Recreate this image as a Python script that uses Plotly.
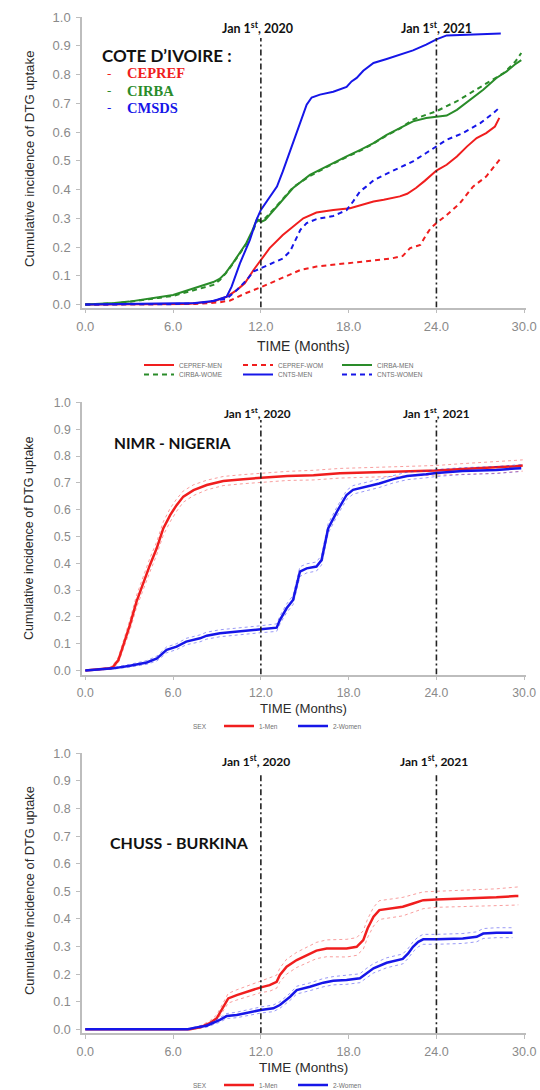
import plotly.graph_objects as go

W, H = 540, 1090

# ---------------- Côte d'Ivoire : three sites, men / women ----------------
cepref_men_t = [0, 7.0, 8.75, 9.66, 10.35, 10.9, 11.5, 12.0, 12.6, 13.5, 14.9, 15.8, 16.95, 18.1,
                19.7, 20.4, 21.5, 22.0, 22.6, 23.2, 23.8, 24.0, 24.7, 25.4, 26.1, 26.75, 27.4, 28.0, 28.3]
cepref_men_v = [0, 0.002, 0.01, 0.027, 0.05, 0.074, 0.12, 0.155, 0.196, 0.242, 0.30, 0.32, 0.329, 0.335,
                0.358, 0.364, 0.376, 0.385, 0.405, 0.43, 0.457, 0.466, 0.486, 0.515, 0.55, 0.579, 0.596, 0.619, 0.649]

cepref_wom_t = [0, 7.5, 8.5, 9.2, 9.9, 10.5, 11.0, 12.0, 12.85, 13.5, 14.7, 15.8, 16.95, 18.1, 19.7, 20.4,
                21.0, 21.7, 22.2, 22.9, 23.3, 23.6, 24.0, 24.7, 25.6, 26.5, 27.4, 28.4]
cepref_wom_v = [0, 0.002, 0.005, 0.008, 0.014, 0.028, 0.04, 0.06, 0.079, 0.092, 0.12, 0.132, 0.138, 0.143,
                0.153, 0.157, 0.161, 0.169, 0.196, 0.207, 0.242, 0.265, 0.283, 0.311, 0.352, 0.41, 0.445, 0.509]

cirba_men_t = [0, 1.0, 2.0, 3.0, 4.2, 5.0, 6.0, 6.7, 7.4, 8.0, 8.75, 9.2, 9.6, 10.1, 10.5, 11.0, 11.4, 11.75,
               12.0, 12.3, 13.08, 14.2, 15.35, 16.0, 16.95, 17.86, 18.8, 19.7, 20.6, 21.5, 22.4, 23.3, 24.0,
               24.7, 25.4, 26.3, 27.2, 28.1, 28.8, 29.36, 29.8]
cirba_men_v = [0, 0.002, 0.005, 0.01, 0.018, 0.025, 0.033, 0.045, 0.056, 0.065, 0.078, 0.09, 0.11, 0.145,
               0.175, 0.213, 0.255, 0.298, 0.287, 0.294, 0.34, 0.405, 0.451, 0.468, 0.492, 0.515, 0.538, 0.561,
               0.59, 0.614, 0.637, 0.649, 0.652, 0.657, 0.677, 0.712, 0.747, 0.788, 0.811, 0.835, 0.85]

cirba_wom_t = [0, 1.0, 2.0, 3.0, 4.2, 5.0, 6.0, 6.7, 7.4, 8.0, 8.75, 9.2, 9.6, 10.1, 10.5, 11.0, 11.4, 11.75,
               12.0, 12.3, 13.08, 14.2, 15.35, 16.0, 16.95, 17.86, 18.8, 19.7, 20.6, 21.5, 22.4, 23.3, 24.0,
               24.7, 25.4, 26.5, 27.7, 28.6, 29.4, 29.8]
cirba_wom_v = [0, 0.002, 0.004, 0.009, 0.016, 0.023, 0.03, 0.04, 0.05, 0.058, 0.068, 0.085, 0.108, 0.143,
               0.172, 0.21, 0.25, 0.29, 0.295, 0.3, 0.343, 0.408, 0.447, 0.465, 0.49, 0.513, 0.535, 0.56,
               0.588, 0.612, 0.643, 0.66, 0.672, 0.69, 0.707, 0.741, 0.776, 0.805, 0.845, 0.875]

cnts_men_t = [0, 3.0, 6.0, 7.5, 8.75, 9.66, 10.0, 10.57, 11.25, 11.7, 12.0, 12.4, 13.1, 13.5, 14.2, 14.67,
              15.13, 15.47, 16.04, 16.95, 17.86, 18.2, 18.55, 19.0, 19.7, 20.6, 21.5, 22.4, 23.3, 24.0,
              24.7, 25.8, 27.0, 28.4]
cnts_men_v = [0, 0.001, 0.002, 0.005, 0.012, 0.027, 0.062, 0.143, 0.225, 0.294, 0.329, 0.358, 0.41, 0.463,
              0.56, 0.63, 0.695, 0.72, 0.73, 0.74, 0.757, 0.776, 0.788, 0.813, 0.84, 0.854, 0.869, 0.884,
              0.904, 0.922, 0.936, 0.938, 0.94, 0.943]

cnts_wom_t = [0, 6.0, 8.0, 9.66, 10.35, 11.03, 11.5, 12.0, 12.85, 13.5, 14.0, 14.45, 14.7, 15.13, 15.8,
              16.3, 16.95, 17.4, 17.86, 18.3, 18.77, 19.2, 19.7, 20.4, 21.3, 22.4, 23.3, 24.0, 24.7, 25.8,
              27.0, 27.9, 28.4]
cnts_wom_v = [0, 0.001, 0.006, 0.02, 0.05, 0.085, 0.115, 0.126, 0.143, 0.16, 0.185, 0.236, 0.26, 0.283,
              0.297, 0.302, 0.308, 0.318, 0.328, 0.358, 0.393, 0.41, 0.432, 0.45, 0.472, 0.498, 0.527, 0.55,
              0.573, 0.596, 0.631, 0.666, 0.689]

# ---------------- NIMR - Nigeria : estimate with 95% band ----------------
ng_men_t = [0, 1.0, 1.69, 1.9, 2.26, 2.6, 3.05, 3.5, 3.97, 4.42, 4.88, 5.33, 5.8, 6.24, 6.7, 7.4, 8.3,
            9.43, 10.8, 12.0, 13.8, 15.6, 17.4, 19.2, 21.5, 24.0, 25.8, 28.1, 29.4, 29.9]
ng_men_v = [0, 0.004, 0.008, 0.014, 0.039, 0.095, 0.17, 0.257, 0.331, 0.394, 0.456, 0.53, 0.58, 0.617,
            0.649, 0.673, 0.692, 0.707, 0.714, 0.719, 0.726, 0.729, 0.736, 0.739, 0.742, 0.746, 0.752,
            0.757, 0.762, 0.765]
ng_men_hi = [0, 0.006, 0.012, 0.02, 0.05, 0.11, 0.19, 0.28, 0.355, 0.42, 0.48, 0.555, 0.605, 0.64, 0.67,
             0.693, 0.71, 0.724, 0.731, 0.736, 0.743, 0.747, 0.754, 0.757, 0.76, 0.765, 0.772, 0.778,
             0.784, 0.786]
ng_men_lo = [0, 0.002, 0.004, 0.008, 0.028, 0.08, 0.15, 0.235, 0.307, 0.368, 0.432, 0.505, 0.555, 0.594,
             0.628, 0.653, 0.674, 0.69, 0.697, 0.702, 0.709, 0.711, 0.718, 0.721, 0.724, 0.727, 0.732,
             0.736, 0.74, 0.744]

ng_wom_t = [0, 1.9, 3.05, 4.2, 4.9, 5.56, 6.24, 6.9, 7.84, 8.3, 9.2, 10.57, 12.0, 13.08, 13.3, 13.76,
            14.2, 14.5, 14.67, 15.13, 15.8, 16.15, 16.6, 17.2, 17.86, 18.3, 19.2, 20.1, 21.05, 22.0, 23.3,
            24.0, 25.8, 28.1, 29.4, 29.8]
ng_wom_v = [0, 0.008, 0.018, 0.03, 0.045, 0.077, 0.089, 0.108, 0.12, 0.13, 0.139, 0.145, 0.154, 0.16,
            0.188, 0.232, 0.263, 0.33, 0.369, 0.381, 0.388, 0.412, 0.53, 0.593, 0.655, 0.674, 0.686, 0.698,
            0.714, 0.726, 0.732, 0.737, 0.744, 0.748, 0.754, 0.755]
ng_wom_hi = [0, 0.011, 0.023, 0.037, 0.054, 0.088, 0.1, 0.12, 0.133, 0.143, 0.152, 0.158, 0.167, 0.174,
             0.203, 0.248, 0.28, 0.348, 0.387, 0.398, 0.405, 0.43, 0.548, 0.61, 0.672, 0.69, 0.702, 0.713,
             0.728, 0.74, 0.745, 0.75, 0.757, 0.761, 0.767, 0.768]
ng_wom_lo = [0, 0.005, 0.013, 0.023, 0.036, 0.066, 0.078, 0.096, 0.107, 0.117, 0.126, 0.132, 0.141, 0.146,
             0.173, 0.216, 0.246, 0.312, 0.351, 0.364, 0.371, 0.394, 0.512, 0.576, 0.638, 0.658, 0.67,
             0.683, 0.7, 0.712, 0.719, 0.724, 0.731, 0.735, 0.741, 0.742]

# ---------------- CHUSS - Burkina : estimate with 95% band ----------------
bf_men_t = [0, 7.16, 7.84, 8.5, 8.98, 9.43, 9.77, 10.35, 11.03, 12.0, 12.6, 13.08, 13.3, 13.76, 14.45,
            15.13, 15.8, 16.5, 17.86, 18.55, 19.0, 19.3, 19.7, 20.1, 21.05, 21.7, 22.4, 23.1, 24.0, 25.8,
            28.1, 29.4, 29.6]
bf_men_v = [0, 0, 0.007, 0.022, 0.04, 0.082, 0.112, 0.124, 0.136, 0.152, 0.16, 0.172, 0.197, 0.227, 0.251,
            0.269, 0.285, 0.293, 0.293, 0.299, 0.323, 0.366, 0.408, 0.432, 0.438, 0.444, 0.456, 0.468, 0.47,
            0.473, 0.478, 0.483, 0.483]
bf_men_hi = [0, 0, 0.012, 0.03, 0.052, 0.098, 0.13, 0.143, 0.156, 0.175, 0.184, 0.196, 0.222, 0.254, 0.279,
             0.298, 0.315, 0.324, 0.326, 0.332, 0.357, 0.4, 0.442, 0.466, 0.472, 0.478, 0.488, 0.498, 0.5,
             0.503, 0.509, 0.515, 0.516]
bf_men_lo = [0, 0, 0.003, 0.014, 0.03, 0.066, 0.095, 0.106, 0.117, 0.133, 0.138, 0.149, 0.172, 0.2, 0.224,
             0.241, 0.256, 0.263, 0.262, 0.268, 0.29, 0.333, 0.374, 0.398, 0.405, 0.411, 0.424, 0.437,
             0.442, 0.444, 0.447, 0.45, 0.451]

bf_wom_t = [0, 7.0, 7.6, 8.3, 9.2, 9.66, 10.35, 11.03, 12.0, 12.85, 13.3, 14.0, 14.45, 15.35, 16.27, 16.95,
            17.86, 18.77, 19.2, 19.7, 20.6, 21.5, 21.7, 22.07, 22.4, 22.76, 23.1, 24.0, 25.8, 26.75, 27.2,
            28.1, 29.2]
bf_wom_v = [0, 0, 0.007, 0.013, 0.034, 0.048, 0.052, 0.06, 0.07, 0.076, 0.088, 0.118, 0.142, 0.154, 0.169,
            0.176, 0.179, 0.185, 0.203, 0.221, 0.241, 0.251, 0.255, 0.275, 0.299, 0.317, 0.326, 0.326,
            0.329, 0.335, 0.347, 0.35, 0.35]
bf_wom_hi = [0, 0, 0.01, 0.018, 0.042, 0.057, 0.062, 0.07, 0.081, 0.088, 0.1, 0.131, 0.156, 0.168, 0.184,
             0.191, 0.195, 0.201, 0.22, 0.238, 0.259, 0.269, 0.273, 0.293, 0.317, 0.335, 0.344, 0.344,
             0.347, 0.353, 0.365, 0.368, 0.368]
bf_wom_lo = [0, 0, 0.004, 0.008, 0.026, 0.039, 0.042, 0.05, 0.059, 0.064, 0.076, 0.105, 0.128, 0.14, 0.154,
             0.161, 0.163, 0.169, 0.186, 0.204, 0.223, 0.233, 0.237, 0.257, 0.281, 0.299, 0.308, 0.308,
             0.311, 0.317, 0.329, 0.332, 0.332]

# axis ticks and milestones
x_ticks = [0, 6, 12, 18, 24, 30]
x_tick_labels = ["0.0", "6.0", "12.0", "18.0", "24.0", "30.0"]
y_ticks = [0.0, 0.1, 0.2, 0.3, 0.4, 0.5, 0.6, 0.7, 0.8, 0.9, 1.0]
y_tick_labels = ["0.0", "0.1", "0.2", "0.3", "0.4", "0.5", "0.6", "0.7", "0.8", "0.9", "1.0"]
milestones = [12, 24]
milestone_labels = ["Jan 1<sup>st</sup>, 2020", "Jan 1<sup>st</sup>, 2021"]

RED = "#f01e1e"
GREEN = "#2a8c2a"
BLUE = "#1616e8"
RED_CI = "rgba(240,40,40,0.45)"
BLUE_CI = "rgba(30,30,235,0.45)"
GREY_TXT = "#8a8a8a"
AXIS_GREY = "#bdbdbd"

# pixel geometry of the three panels
X_LEFT, X0, PX_PER_MONTH, X_RIGHT = 82.0, 85.3, 14.63, 526.0
panels = [
    dict(y1=17.0, y0=304.5, yaxis=307.5, s=1.0, lab_y=27.0, lab_dx=[-0.2, 0.0], line_top=38.0,
         ytitle=159.0, time_y=345.5, legend_y=[365.0, 374.5]),
    dict(y1=402.5, y0=670.5, yaxis=674.5, s=0.94, lab_y=412.5, lab_dx=[-0.2, 0.0], line_top=420.0,
         ytitle=538.0, time_y=708.0, legend_y=[726.0]),
    dict(y1=753.3, y0=1029.3, yaxis=1033.3, s=0.965, lab_y=760.5, lab_dx=[-0.33, -0.15], line_top=773.0,
         ytitle=891.0, time_y=1067.0, legend_y=[1085.0]),
]


def fx(px):
    return px / W


def fy(py):
    return 1 - py / H


fig = go.Figure()

x_range = [(X_LEFT - X0) / PX_PER_MONTH, 30 + (X_RIGHT - (X0 + 30 * PX_PER_MONTH)) / PX_PER_MONTH]

layout_axes = {}
for i, p in enumerate(panels, start=1):
    per_unit = p["y0"] - p["y1"]
    top_px = p["y1"] - 0.5
    lo_val = -(p["yaxis"] - p["y0"]) / per_unit
    hi_val = 1 + (p["y1"] - top_px) / per_unit
    s = p["s"]
    xa = "xaxis" if i == 1 else f"xaxis{i}"
    ya = "yaxis" if i == 1 else f"yaxis{i}"
    layout_axes[xa] = dict(
        domain=[fx(X_LEFT), fx(X_RIGHT)], range=x_range, anchor="y" if i == 1 else f"y{i}",
        tickvals=x_ticks, ticktext=x_tick_labels, showgrid=False, zeroline=False, automargin=False,
        showline=True, linecolor=AXIS_GREY, linewidth=1.5, ticks="outside", ticklen=4,
        tickcolor=AXIS_GREY, tickwidth=1, ticklabelstandoff=2,
        tickfont=dict(family="Liberation Sans", size=13 * s, color=GREY_TXT),
    )
    layout_axes[ya] = dict(
        domain=[fy(p["yaxis"]), fy(top_px)], range=[lo_val, hi_val], anchor="x" if i == 1 else f"x{i}",
        tickvals=y_ticks, ticktext=y_tick_labels, automargin=False,
        showgrid=False, zeroline=False, showline=True, linecolor=AXIS_GREY, linewidth=1.5,
        ticks="outside", ticklen=4, tickcolor=AXIS_GREY, tickwidth=1, ticklabelstandoff=3,
        tickfont=dict(family="Liberation Sans", size=13 * s, color=GREY_TXT),
    )

# --- panel 1 traces
p1 = [
    ("CEPREF-MEN", cepref_men_t, cepref_men_v, RED, "solid", "legend"),
    ("CEPREF-WOM", cepref_wom_t, cepref_wom_v, RED, "5px,4px", "legend"),
    ("CIRBA-MEN", cirba_men_t, cirba_men_v, GREEN, "solid", "legend"),
    ("CIRBA-WOME", cirba_wom_t, cirba_wom_v, GREEN, "5px,4px", "legend2"),
    ("CNTS-MEN", cnts_men_t, cnts_men_v, BLUE, "solid", "legend2"),
    ("CNTS-WOMEN", cnts_wom_t, cnts_wom_v, BLUE, "5px,4px", "legend2"),
]
for name, t, v, c, d, lg in p1:
    fig.add_trace(go.Scatter(x=t, y=v, mode="lines", name=name, legend=lg,
                             line=dict(color=c, width=2, dash=d), xaxis="x", yaxis="y"))

# --- panels 2 and 3: estimate + confidence limits
for (xa, ya, lg), series in [
    (("x2", "y2", "legend3"), [("1-Men", ng_men_t, ng_men_v, ng_men_lo, ng_men_hi, RED, RED_CI),
                               ("2-Women", ng_wom_t, ng_wom_v, ng_wom_lo, ng_wom_hi, BLUE, BLUE_CI)]),
    (("x3", "y3", "legend4"), [("1-Men", bf_men_t, bf_men_v, bf_men_lo, bf_men_hi, RED, RED_CI),
                               ("2-Women", bf_wom_t, bf_wom_v, bf_wom_lo, bf_wom_hi, BLUE, BLUE_CI)]),
]:
    for name, t, v, lo, hi, c, cci in series:
        for band in (lo, hi):
            fig.add_trace(go.Scatter(x=t, y=band, mode="lines", showlegend=False, hoverinfo="skip",
                                     line=dict(color=cci, width=1, dash="dot"), xaxis=xa, yaxis=ya))
        fig.add_trace(go.Scatter(x=t, y=v, mode="lines", name=name, legend=lg,
                                 line=dict(color=c, width=2.5), xaxis=xa, yaxis=ya))

shapes = []
annotations = []
label_font = "Lato"


def note(x, y, text, size, color, family="Liberation Sans", xanchor="center", **kw):
    annotations.append(dict(xref=kw.pop("xref", "paper"), yref="paper", x=x, y=y, text=text,
                            showarrow=False, xanchor=xanchor, yanchor="middle",
                            font=dict(family=family, size=size, color=color), **kw))


for i, p in enumerate(panels, start=1):
    s = p["s"]
    xr = "x" if i == 1 else f"x{i}"
    yr = "y" if i == 1 else f"y{i}"
    per_unit = p["y0"] - p["y1"]
    for m, lab, dx in zip(milestones, milestone_labels, p["lab_dx"]):
        shapes.append(dict(type="line", xref=xr, yref=yr, x0=m, x1=m,
                           y0=-(p["yaxis"] - p["y0"]) / per_unit,
                           y1=(p["y0"] - p["line_top"]) / per_unit,
                           line=dict(color="#222222", width=1.6, dash="6px,3px,2px,3px")))
        note(m + dx, fy(p["lab_y"]), f"<b>{lab}</b>", 12.5 * s, "#111111", family=label_font, xref=xr)
    note(fx(29), fy(p["ytitle"]), "Cumulative incidence of DTG uptake", 13.3 * s, "#2b2b2b", textangle=-90)
    note(fx(303), fy(p["time_y"]), "TIME (Months)", 14 * s, "#2b2b2b")

# site headings
note(fx(100), fy(55), "<b>COTE D’IVOIRE :</b>", 17, "#111111", family=label_font, xanchor="left")
for lab, c, ypx in [("CEPREF", RED, 73.5), ("CIRBA", GREEN, 90.5), ("CMSDS", BLUE, 107.5)]:
    note(fx(109), fy(ypx), "-", 13, c, family="Liberation Serif")
    note(fx(125), fy(ypx), f"<b>{lab}</b>", 14.5, c, family="Liberation Serif", xanchor="left")
note(fx(112), fy(443.5), "<b>NIMR - NIGERIA</b>", 15.5, "#111111", family=label_font, xanchor="left")
note(fx(108), fy(842), "<b>CHUSS - BURKINA</b>", 16, "#111111", family=label_font, xanchor="left")
# legend group caption for the sex-stratified panels
note(fx(200), fy(panels[1]["legend_y"][0]), "SEX", 6.5, "#707070")
note(fx(200), fy(panels[2]["legend_y"][0]), "SEX", 6.5, "#707070")

legend_common = dict(orientation="h", xanchor="left", yanchor="middle", bgcolor="rgba(0,0,0,0)",
                     font=dict(family="Liberation Sans", size=6.5, color="#707070"),
                     itemwidth=30, entrywidthmode="pixels", tracegroupgap=0)

fig.update_layout(
    width=W, height=H, autosize=False,
    margin=dict(l=0, r=0, t=0, b=0, autoexpand=False),
    paper_bgcolor="white", plot_bgcolor="white",
    shapes=shapes, annotations=annotations,
    legend=dict(x=fx(139), y=fy(panels[0]["legend_y"][0]), entrywidth=54, **legend_common),
    legend2=dict(x=fx(139), y=fy(panels[0]["legend_y"][1]), entrywidth=54, **legend_common),
    legend3=dict(x=fx(219), y=fy(panels[1]["legend_y"][0]), entrywidth=29, **legend_common),
    legend4=dict(x=fx(219), y=fy(panels[2]["legend_y"][0]), entrywidth=29, **legend_common),
    **layout_axes,
)

fig.write_html("out.html")
